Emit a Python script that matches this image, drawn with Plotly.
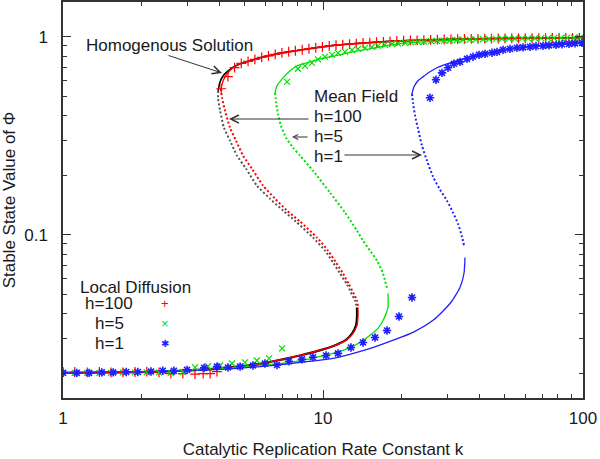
import plotly.graph_objects as go

# ---------------- data ----------------
# Homogeneous solution (black)
hom_up_k = [3.95, 4.02, 4.16, 4.39, 4.80, 5.24, 5.72, 6.83, 8.16, 10.9, 14.8, 19.8, 35.8, 57.3, 100]
hom_up_phi = [0.534, 0.593, 0.643, 0.686, 0.731, 0.757, 0.784, 0.825, 0.858, 0.905, 0.934, 0.955, 0.977, 0.984, 0.990]
hom_mid_k = [3.95, 3.95, 4.02, 4.16, 4.39, 4.67, 5.06, 5.57, 6.25, 7.02, 7.87, 9.15, 10.18, 10.93, 11.63, 12.37, 12.81, 13.28, 13.51]
hom_mid_phi = [0.534, 0.487, 0.4234, 0.3476, 0.2989, 0.2511, 0.2159, 0.1773, 0.1524, 0.1326, 0.1167, 0.0969, 0.0833,
               0.0725, 0.0638, 0.0562, 0.0512, 0.0466, 0.0430]
hom_low_k = [13.51, 13.51, 13.40, 12.95, 12.30, 11.55, 10.0, 8.16, 6.65, 5.57, 4.39, 3.68, 2.36, 1.52, 1.0]
hom_low_phi = [0.0430, 0.0383, 0.0349, 0.0318, 0.0296, 0.0283, 0.0264, 0.0246, 0.0232, 0.0222, 0.0214, 0.0210, 0.0204, 0.0202, 0.0201]

# Mean field h=100 (red)
mf100_up_k = [4.05, 4.13, 4.27, 4.51, 4.80, 5.24, 5.72, 6.83, 8.16, 10.9, 14.8, 19.8, 35.8, 57.3, 100]
mf100_up_phi = [0.547, 0.600, 0.651, 0.698, 0.731, 0.757, 0.784, 0.825, 0.858, 0.905, 0.934, 0.955, 0.977, 0.984, 0.990]
mf100_mid_k = [4.05, 4.09, 4.20, 4.39, 4.63, 4.93, 5.33, 5.88, 6.54, 7.27, 8.16, 9.48, 10.45, 11.22, 11.94, 12.59, 13.05, 13.51, 13.63]
mf100_mid_phi = [0.547, 0.4925, 0.4234, 0.3476, 0.2989, 0.2511, 0.2159, 0.1773, 0.1524, 0.1326, 0.1167, 0.0969, 0.0833,
                 0.0725, 0.0638, 0.0562, 0.0512, 0.0466, 0.0430]
mf100_low_k = [13.63, 13.63, 13.51, 13.04, 12.37, 11.63, 10.0, 8.16, 6.65, 5.57, 4.39, 3.68, 2.36, 1.52, 1.0]
mf100_low_phi = [0.0430, 0.0383, 0.0349, 0.0318, 0.0296, 0.0283, 0.0264, 0.0246, 0.0232, 0.0222, 0.0214, 0.0210, 0.0204, 0.0202, 0.0201]

# Mean field h=5 (green)
mf5_up_k = [6.54, 6.65, 7.02, 7.47, 7.94, 8.91, 9.74, 11.12, 13.04, 15.85, 19.78, 26.49, 35.8, 47.95, 68.32, 100]
mf5_up_phi = [0.522, 0.566, 0.621, 0.674, 0.714, 0.748, 0.774, 0.802, 0.840, 0.880, 0.925, 0.950, 0.968, 0.978, 0.985, 0.990]
mf5_mid_k = [6.54, 6.60, 6.71, 6.89, 7.21, 7.67, 8.16, 9.15, 10.64, 12.15, 13.51, 14.25, 15.16, 16.13, 17.01, 17.63]
mf5_mid_phi = [0.522, 0.4647, 0.4090, 0.3557, 0.3095, 0.2755, 0.2511, 0.2110, 0.1634, 0.1296, 0.1051, 0.0936, 0.0833,
               0.0742, 0.0638, 0.0536]
mf5_low_k = [17.78, 17.78, 17.17, 16.28, 15.16, 13.88, 11.94, 9.48, 7.47, 5.57, 4.39, 3.68, 2.36, 1.52, 1.0]
mf5_low_phi = [0.0506, 0.0430, 0.0378, 0.0337, 0.0311, 0.0286, 0.0261, 0.0241, 0.0227, 0.0219, 0.0213, 0.0209, 0.0204, 0.0202, 0.0201]

# Mean field h=1 (blue)
mf1_up_k = [21.99, 22.39, 23.20, 24.24, 25.79, 27.45, 30.80, 34.55, 39.11, 43.88, 50.12, 57.25, 68.32, 81.55, 100]
mf1_up_phi = [0.516, 0.560, 0.600, 0.628, 0.666, 0.698, 0.739, 0.774, 0.812, 0.835, 0.862, 0.885, 0.906, 0.926, 0.944]
mf1_mid_k = [21.99, 22.19, 22.59, 23.20, 24.03, 25.12, 26.49, 28.18, 29.99, 31.62, 33.05, 34.24, 34.85]
mf1_mid_phi = [0.516, 0.4647, 0.3996, 0.3436, 0.2820, 0.2369, 0.1968, 0.1692, 0.1489, 0.1296, 0.1139, 0.0980, 0.0884]
mf1_low_k = [35.17, 34.85, 33.64, 30.80, 26.49, 22.19, 18.10, 14.77, 10.93, 8.16, 6.65, 5.24, 3.68, 2.36, 1.52, 1.0]
mf1_low_phi = [0.0768, 0.0638, 0.0542, 0.0450, 0.0370, 0.0322, 0.0290, 0.0264, 0.0238, 0.0227, 0.0220, 0.0214, 0.0208,
               0.0204, 0.0202, 0.0201]

# Local diffusion simulations (markers)
ld100_k = [1.0, 1.11, 1.24, 1.38, 1.53, 1.70, 1.89, 2.10, 2.34, 2.60, 2.89, 3.22, 3.46, 3.68, 3.91,
           4.06, 4.31, 4.57, 4.85, 5.15, 5.47, 5.81, 6.17, 6.55, 6.95, 7.38, 7.83, 8.32, 8.83, 9.38, 9.95,
           10.57, 11.22, 11.91, 12.65, 13.43, 14.26, 15.14, 16.07, 17.06, 18.11, 19.23, 20.42, 21.68, 23.01,
           24.43, 25.94, 27.54, 29.24, 31.05, 32.96, 34.99, 37.15, 39.45, 41.88, 44.46, 47.21, 50.12, 53.21,
           56.49, 59.98, 63.68, 67.61, 71.78, 76.21, 80.91, 85.90, 91.20, 96.83]
ld100_phi = [0.0203, 0.0203, 0.0202, 0.0203, 0.0202, 0.0202, 0.0203, 0.0204, 0.0202, 0.0199, 0.0199, 0.0198, 0.0199,
             0.0199, 0.0204,
             0.547, 0.630, 0.700, 0.734, 0.752, 0.769, 0.787, 0.802, 0.815, 0.830, 0.841, 0.851, 0.861, 0.871, 0.881,
             0.891, 0.900, 0.908, 0.914, 0.920, 0.925, 0.931, 0.935, 0.940, 0.944, 0.948, 0.953, 0.957, 0.959, 0.961,
             0.963, 0.966, 0.968, 0.970, 0.972, 0.974, 0.976, 0.977, 0.978, 0.979, 0.980, 0.981, 0.982, 0.983, 0.983,
             0.984, 0.985, 0.986, 0.986, 0.987, 0.987, 0.988, 0.988, 0.989]

ld5_k = [1.0, 1.11, 1.24, 1.38, 1.53, 1.70, 1.89, 2.10, 2.34, 2.60, 2.89, 3.22, 3.61, 4.02, 4.47, 5.01, 5.57, 6.20, 6.96,
         7.27, 8.01, 8.53, 9.07, 9.57, 10.18, 10.83, 11.42, 12.15, 12.93, 13.63, 14.51, 15.43, 16.28, 17.32, 18.42,
         19.43, 20.68, 21.80, 23.20, 24.46, 26.03, 27.45, 29.20, 30.80, 32.77, 34.55, 36.76, 38.77, 41.25, 43.50,
         46.28, 48.81, 51.93, 54.77, 58.27, 61.45, 65.38, 68.96, 73.37, 77.38, 82.33, 86.83, 92.35, 97.39]
ld5_phi = [0.0201, 0.0201, 0.0201, 0.0201, 0.0201, 0.0202, 0.0202, 0.0202, 0.0202, 0.0201, 0.0203, 0.0214, 0.0217,
           0.0219, 0.0224, 0.0227, 0.0232, 0.0238, 0.0267,
           0.593, 0.690, 0.714, 0.739, 0.770, 0.793, 0.811, 0.830, 0.840, 0.860, 0.870, 0.880, 0.890, 0.901, 0.911,
           0.920, 0.927, 0.933, 0.938, 0.943, 0.947, 0.951, 0.955, 0.958, 0.961, 0.964, 0.967, 0.969, 0.971, 0.973,
           0.975, 0.977, 0.978, 0.980, 0.981, 0.982, 0.983, 0.984, 0.985, 0.986, 0.987, 0.988, 0.989, 0.990, 0.991]

ld1_k = [1.0, 1.13, 1.26, 1.41, 1.56, 1.75, 1.94, 2.18, 2.42, 2.67, 3.00, 3.49, 3.91, 4.31, 4.80, 5.38, 5.98, 6.65,
         7.40, 8.30, 9.15, 10.27, 11.42, 12.81, 14.25, 15.85, 17.63, 19.60, 21.99,
         25.79, 27.20, 28.69, 30.25, 31.90, 33.64, 35.80, 37.75, 39.81, 42.00, 44.67, 46.69, 49.24, 52.40, 55.74,
         58.78, 62.54, 65.96, 70.18, 74.00, 78.75, 83.06, 88.35, 93.17, 99.12]
ld1_phi = [0.0201, 0.0201, 0.0201, 0.0202, 0.0202, 0.0203, 0.0203, 0.0204, 0.0206, 0.0206, 0.0208, 0.0213, 0.0216,
           0.0214, 0.0216, 0.0219, 0.0224, 0.0220, 0.0230, 0.0235, 0.0241, 0.0246, 0.0252, 0.0270, 0.0286, 0.0303,
           0.0329, 0.0387, 0.0483,
           0.4925, 0.607, 0.658, 0.698, 0.731, 0.748, 0.774, 0.793, 0.811, 0.821, 0.831, 0.840, 0.860, 0.870, 0.880,
           0.885, 0.890, 0.896, 0.901, 0.906, 0.911, 0.917, 0.922, 0.927, 0.933]

x_tick_vals = [1, 10, 100]
x_tick_text = ["1", "10", "100"]
y_tick_vals = [0.1, 1]
y_tick_text = ["0.1", "1"]
x_minor = [2, 3, 4, 5, 6, 7, 8, 9, 20, 30, 40, 50, 60, 70, 80, 90]
y_minor = [0.02, 0.03, 0.04, 0.05, 0.06, 0.07, 0.08, 0.09, 0.2, 0.3, 0.4, 0.5, 0.6, 0.7, 0.8, 0.9]

# ---------------- styles ----------------
RED = "#ff0000"
GREEN = "#00e000"
BLUE = "#1f1fff"
BLACK = "#000000"
FONT = "Liberation Sans, Arial, sans-serif"
TXT = "#1a1a1a"
DOT = "2px,2.2px"

fig = go.Figure()


def line(k, p, color, width=1.3, dash=None):
    fig.add_trace(go.Scatter(x=k, y=p, mode="lines", line=dict(color=color, width=width, dash=dash, shape="spline", smoothing=0.6),
                             hoverinfo="skip", showlegend=False))


# homogeneous solution (black)
line(hom_up_k, hom_up_phi, BLACK, 1.6)
line(hom_mid_k, hom_mid_phi, "#555555", 2, DOT)
line(hom_low_k, hom_low_phi, BLACK, 2.2)

# mean-field curves
line(mf100_up_k, mf100_up_phi, RED)
line(mf100_mid_k, mf100_mid_phi, RED, 2, DOT)
line(mf100_low_k, mf100_low_phi, RED, 1.3)
line(mf5_up_k, mf5_up_phi, GREEN)
line(mf5_mid_k, mf5_mid_phi, GREEN, 2, DOT)
line(mf5_low_k, mf5_low_phi, GREEN)
line(mf1_up_k, mf1_up_phi, BLUE)
line(mf1_mid_k, mf1_mid_phi, BLUE, 2, DOT)
line(mf1_low_k, mf1_low_phi, BLUE)

# local diffusion markers
fig.add_trace(go.Scatter(x=ld100_k, y=ld100_phi, mode="markers",
                         marker=dict(symbol="cross-thin", size=7, line=dict(color=RED, width=1.2)),
                         hoverinfo="skip", showlegend=False))
fig.add_trace(go.Scatter(x=ld5_k, y=ld5_phi, mode="markers",
                         marker=dict(symbol="x-thin", size=6, line=dict(color=GREEN, width=1.2)),
                         hoverinfo="skip", showlegend=False))
fig.add_trace(go.Scatter(x=ld1_k, y=ld1_phi, mode="markers",
                         marker=dict(symbol="asterisk", size=7, line=dict(color=BLUE, width=1.6)),
                         hoverinfo="skip", showlegend=False))

ann = []


def text(x, y, s, xanchor="left", color=TXT, size=17):
    ann.append(dict(xref="paper", yref="paper", x=x, y=y, text=s, showarrow=False, xanchor=xanchor,
                    yanchor="middle", font=dict(family=FONT, size=size, color=color)))


def arrow(x, y, ax, ay, head=5, size=1.6):
    ann.append(dict(xref="paper", yref="paper", x=x, y=y, ax=ax, ay=ay, text="", showarrow=True,
                    arrowhead=head, arrowsize=size, arrowwidth=1, arrowcolor="#333333"))


text(0.0404, 0.8889, "Homogenous Solution")
arrow(0.3058, 0.8207, -55, -18)
text(0.4788, 0.7626, "Mean Field")
text(0.4788, 0.7121, "h=100")
text(0.4788, 0.6616, "h=5")
text(0.4788, 0.6111, "h=1")
arrow(0.3192, 0.7045, 81, 0)
arrow(0.4404, 0.6591, 17, 0, head=5, size=1)
arrow(0.6904, 0.6136, -79, 0)

text(0.0288, 0.2803, "Local Diffusion")
text(0.0885, 0.2374, "h=100", xanchor="center")
text(0.0885, 0.1869, "h=5", xanchor="center")
text(0.0885, 0.1364, "h=1", xanchor="center")
text(0.1962, 0.2374, "+", xanchor="center", color=RED, size=13)
text(0.1962, 0.1869, "×", xanchor="center", color=GREEN, size=13)
text(0.1962, 0.1364, "✱", xanchor="center", color=BLUE, size=10)

axis_common = dict(type="log", showgrid=False, zeroline=False, showline=True, linecolor="#333333", linewidth=1.5,
                   mirror="allticks", ticks="inside", ticklen=8, tickwidth=1, tickcolor="#333333", automargin=False,
                   tickfont=dict(family=FONT, size=17, color=TXT))

fig.update_layout(
    width=600, height=459,
    margin=dict(l=63, r=17, t=2, b=61, autoexpand=False),
    paper_bgcolor="white", plot_bgcolor="white",
    showlegend=False,
    annotations=ann,
    xaxis=dict(axis_common, range=[0, 2], tickvals=x_tick_vals, ticktext=x_tick_text, ticklabelstandoff=4,
               minor=dict(tickvals=x_minor, ticks="inside", ticklen=4, tickcolor="#333333", showgrid=False),
               title=dict(text="Catalytic Replication Rate Constant k", standoff=18,
                          font=dict(family=FONT, size=17, color=TXT))),
    yaxis=dict(axis_common, range=[-1.8239, 0.1761], tickvals=y_tick_vals, ticktext=y_tick_text, ticklabelstandoff=10,
               minor=dict(tickvals=y_minor, ticks="inside", ticklen=4, tickcolor="#333333", showgrid=False),
               title=dict(text="Stable State Value of Φ", standoff=6,
                          font=dict(family=FONT, size=17, color=TXT))),
)

fig.write_html("out.html", config={"displayModeBar": False},
               post_script="document.body.style.margin='0px';")
